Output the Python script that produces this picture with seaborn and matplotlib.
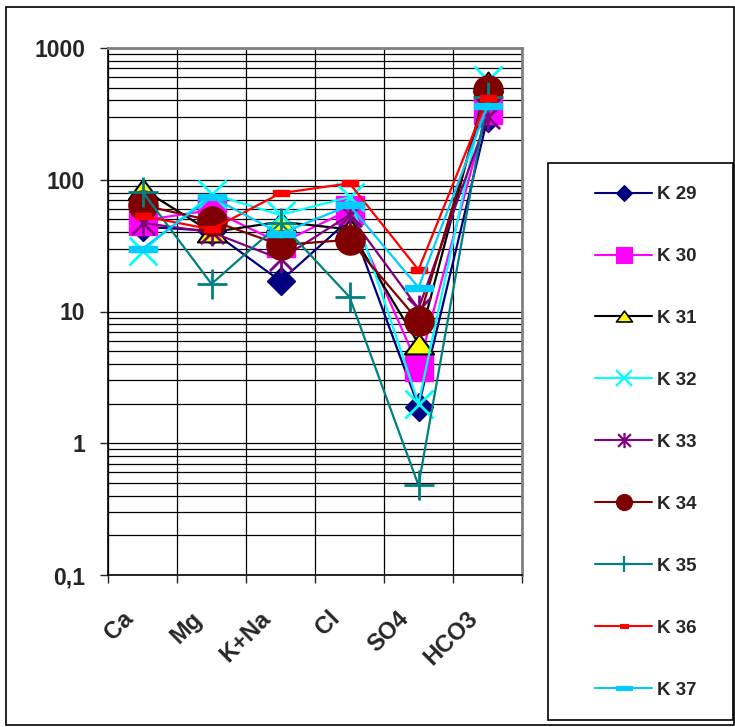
import numpy as np
import pandas as pd
import matplotlib
matplotlib.use("Agg")
import matplotlib.pyplot as plt
import seaborn as sns
from matplotlib.path import Path
from matplotlib.lines import Line2D
from matplotlib.patches import Rectangle
from matplotlib.transforms import ScaledTranslation
from matplotlib.ticker import FixedLocator, NullFormatter

# ---------------- data ----------------
categories = ["Ca", "Mg", "K+Na", "Cl", "SO4", "HCO3"]
series_names = ["K 29", "K 30", "K 31", "K 32", "K 33", "K 34", "K 35", "K 36", "K 37"]
k29 = [44, 41, 17, 50, 1.9, 293]
k30 = [49, 59, 33, 59, 3.8, 340]
k31 = [85, 40, 48, 42, 5.7, 555]
k32 = [29, 78, 54, 74, 2.0, 570]
k33 = [47, 40, 25, 54, 10.5, 298]
k34 = [64, 49, 32, 35, 8.5, 480]
k35 = [81, 16.2, 47, 12.9, 0.48, 427]
k36 = [53, 42, 79, 94, 20.7, 415]
k37 = [30, 74, 39, 64, 15.2, 365]
values = [k29, k30, k31, k32, k33, k34, k35, k36, k37]
ytick_values = [0.1, 1, 10, 100, 1000]
ytick_labels = ["0,1", "1", "10", "100", "1000"]

# ---------------- styles ----------------
tri = Path([(-1, -0.68), (1, -0.68), (0, 0.68), (-1, -0.68)],
           [Path.MOVETO, Path.LINETO, Path.LINETO, Path.CLOSEPOLY])
star = Path([(-1, -1), (1, 1), (-1, 1), (1, -1), (0, -1.2), (0, 1.2)],
            [Path.MOVETO, Path.LINETO, Path.MOVETO, Path.LINETO, Path.MOVETO, Path.LINETO])
bar_small = Path([(-1, -0.4), (1, -0.4), (1, 0.4), (-1, 0.4), (-1, -0.4)],
                 [Path.MOVETO, Path.LINETO, Path.LINETO, Path.LINETO, Path.CLOSEPOLY])
bar_wide = Path([(-1, -0.25), (1, -0.25), (1, 0.25), (-1, 0.25), (-1, -0.25)],
                [Path.MOVETO, Path.LINETO, Path.LINETO, Path.LINETO, Path.CLOSEPOLY])

styles = [
    dict(color="#000080", marker="D", ms=14.5, mfc="#000080", mec="#000080", mew=1),
    dict(color="#FF00FF", marker="s", ms=20, mfc="#FF00FF", mec="#FF00FF", mew=1),
    dict(color="#000000", marker=tri, ms=21, mfc="#FFFF00", mec="#000000", mew=1.5),
    dict(color="#00FFFF", marker="x", ms=20, mfc="#00FFFF", mec="#00FFFF", mew=2),
    dict(color="#800080", marker=star, ms=20, mfc="none", mec="#800080", mew=2),
    dict(color="#800000", marker="o", ms=21, mfc="#800000", mec="#800000", mew=1),
    dict(color="#008080", marker="+", ms=21, mfc="#008080", mec="#008080", mew=2),
    dict(color="#FF0000", marker=bar_small, ms=11, mfc="#FF0000", mec="#FF0000", mew=1),
    dict(color="#00CCFF", marker=bar_wide, ms=20, mfc="#00CCFF", mec="#00CCFF", mew=1),
]

sns.set_style("white")
plt.rcParams["font.family"] = ["Liberation Sans", "DejaVu Sans"]
plt.rcParams["font.weight"] = "bold"

fig = plt.figure(figsize=(7.35, 7.27), dpi=100)
ax = fig.add_axes([108 / 735, 152 / 727, 414 / 735, 527 / 727])

xpos = np.arange(len(categories))
for name, vals, st in zip(series_names, values, styles):
    df = pd.DataFrame({"x": xpos, "y": vals})
    sns.lineplot(data=df, x="x", y="y", ax=ax, color=st["color"], lw=1.6,
                 marker=st["marker"], markersize=st["ms"], markerfacecolor=st["mfc"],
                 markeredgecolor=st["mec"], markeredgewidth=st["mew"], label=name)
if ax.get_legend() is not None:
    ax.get_legend().remove()

ax.set_yscale("log")
ax.set_ylim(0.1, 1000)
ax.set_xlim(-0.5, len(categories) - 0.5)
ax.set_xlabel("")
ax.set_ylabel("")

ax.yaxis.set_major_locator(FixedLocator(ytick_values))
ax.set_yticklabels(ytick_labels, fontsize=16.5, fontweight="bold")
minor_y = [m * 10.0 ** e for e in range(-1, 3) for m in range(2, 10)]
ax.yaxis.set_minor_locator(FixedLocator(minor_y))
ax.yaxis.set_minor_formatter(NullFormatter())
ax.tick_params(axis="y", which="major", direction="out", length=6, width=1, pad=10.5, left=True)
ax.tick_params(axis="y", which="minor", length=0)

ax.set_xticks(xpos)
ax.set_xticklabels(categories, fontsize=17, fontweight="bold", rotation=45,
                   ha="right", va="center", rotation_mode="anchor")
ax.xaxis.set_minor_locator(FixedLocator(np.arange(-0.5, len(categories), 1.0)))
ax.tick_params(axis="x", which="major", length=0, pad=29)
ax.tick_params(axis="x", which="minor", direction="out", length=6, width=1, bottom=True)
offset = ScaledTranslation(-13 / 100, 0, fig.dpi_scale_trans)
for lab in ax.get_xticklabels():
    lab.set_transform(lab.get_transform() + offset)

ax.grid(True, which="major", axis="y", color="black", lw=0.9)
ax.grid(True, which="minor", axis="y", color="black", lw=0.9)
ax.grid(True, which="minor", axis="x", color="black", lw=0.9)
ax.grid(False, which="major", axis="x")
ax.set_axisbelow(True)

for s in ["left", "bottom"]:
    ax.spines[s].set_color("black")
    ax.spines[s].set_linewidth(1.2)
for s in ["top", "right"]:
    ax.spines[s].set_color("#808080")
    ax.spines[s].set_linewidth(2)

# outer frame
fig.patches.append(Rectangle((6 / 735, 2 / 727), 728 / 735, 718 / 727, transform=fig.transFigure,
                             fill=False, edgecolor="black", lw=1.2))
# legend frame
fig.patches.append(Rectangle((548 / 735, 7 / 727), 185 / 735, 557 / 727, transform=fig.transFigure,
                             fill=False, edgecolor="black", lw=1.2))

handles = []
for name, st in zip(series_names, styles):
    handles.append(Line2D([0], [0], color=st["color"], lw=1.5, marker=st["marker"],
                          markersize=st["ms"] * 0.55, markerfacecolor=st["mfc"],
                          markeredgecolor=st["mec"], markeredgewidth=st["mew"] * 0.8))
leg = fig.legend(handles, series_names, loc="upper left",
                 bbox_to_anchor=(595 / 735, 1 - 186 / 727), frameon=False,
                 prop=dict(size=13.5, weight="bold"), handlelength=3.05, handletextpad=0.25,
                 labelspacing=2.39, borderaxespad=0, borderpad=0)

fig.savefig("out.png", dpi=100)
